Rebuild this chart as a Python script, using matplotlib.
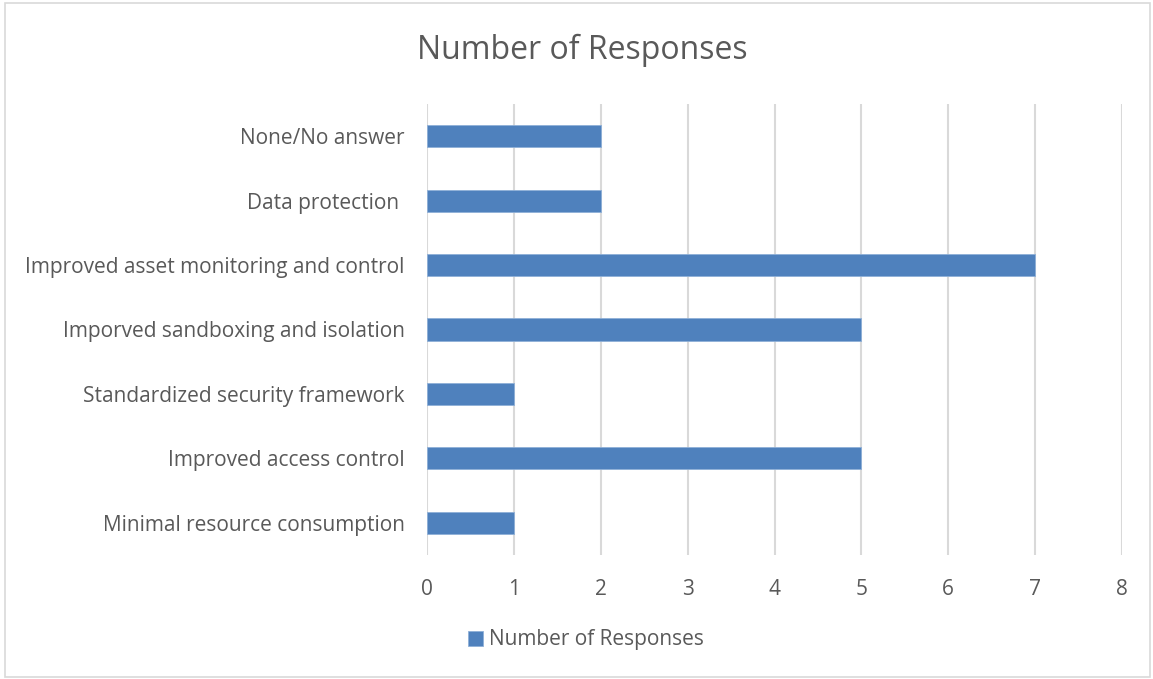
import matplotlib
matplotlib.use("Agg")
import matplotlib.pyplot as plt
from matplotlib.patches import Rectangle

categories = [
    "Minimal resource consumption",
    "Improved access control",
    "Standardized security framework",
    "Imporved sandboxing and isolation",
    "Improved asset monitoring and control",
    "Data protection ",
    "None/No answer",
]
values = [1, 5, 1, 5, 7, 2, 2]
xticks = [0, 1, 2, 3, 4, 5, 6, 7, 8]
series_name = "Number of Responses"

plt.rcParams['font.family'] = ['Open Sans', 'DejaVu Sans']
text_color = "#595959"
bar_color = "#4F81BD"

fig = plt.figure(figsize=(11.53, 6.79), dpi=100)
ax = fig.add_axes([427/1153, 1 - 555/679, (1122-427)/1153, (555-104)/679])

ax.barh(range(len(categories)), values, height=0.345, color=bar_color,
        edgecolor="#8FB0D8", linewidth=0.6, label=series_name, zorder=3)
ax.set_xlim(0, 8)
ax.set_ylim(-0.5, len(categories) - 0.5)
ax.set_xticks(xticks)
ax.set_xticklabels([str(t) for t in xticks])
ax.set_yticks(range(len(categories)))
ax.set_yticklabels(categories)
ax.tick_params(axis='both', length=0, colors=text_color, labelsize=15)
ax.tick_params(axis='x', pad=17)
ax.tick_params(axis='y', pad=16)
ax.grid(axis='x', color="#D9D9D9", linewidth=1.5, zorder=0)
for s in ax.spines.values():
    s.set_visible(False)

fig.text(582/1153, 1 - 50/679, series_name, ha='center', va='center',
         fontsize=23, color=text_color)

leg = fig.legend(loc='center', bbox_to_anchor=(586/1153, 1 - 640/679), frameon=False,
                 fontsize=15, handlelength=0.75, handleheight=0.75, handletextpad=0.3,
                 labelcolor=text_color)

fig.patches.append(Rectangle((5/1153, 2/679), 1145/1153, 674/679, transform=fig.transFigure,
                             fill=False, edgecolor="#D9D9D9", linewidth=1.2))

fig.savefig("out.png", dpi=100)
